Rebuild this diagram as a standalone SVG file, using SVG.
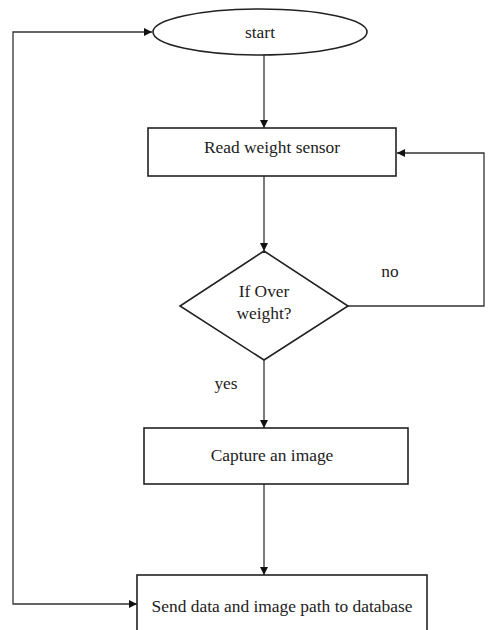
<svg xmlns="http://www.w3.org/2000/svg" width="491" height="630" viewBox="0 0 491 630">
<defs>
<marker id="ah" viewBox="0 0 10 10" refX="10" refY="5" markerWidth="8" markerHeight="8" markerUnits="userSpaceOnUse" orient="auto-start-reverse">
<path d="M0,0 L10,5 L0,10 z" fill="#111"/>
</marker>
</defs>
<style>
.shape{fill:#fff;stroke:#222;stroke-width:1.6}
.edge{fill:none;stroke:#333;stroke-width:1.3;marker-end:url(#ah)}
.both{marker-start:url(#ah)}
.lbl{font-family:'Liberation Serif','Times New Roman','DejaVu Serif',serif;font-size:17.4px;fill:#222;text-anchor:middle}
</style>
<rect width="491" height="630" fill="#fff"/>
<g id="connectors">
<path class="edge" d="M264,55 L264,128"/>
<path class="edge" d="M264,176 L264,251"/>
<path class="edge" d="M348,306 L484,306 L484,153 L397,153"/>
<path class="edge" d="M264,360 L264,428"/>
<path class="edge" d="M264,484 L264,575"/>
<path class="edge both" d="M137,604 L13,604 L13,32 L152,32"/>
<text class="lbl" x="390" y="277">no</text>
<text class="lbl" x="226" y="389">yes</text>
</g>
<g id="start">
<ellipse class="shape" cx="260" cy="32" rx="107" ry="23"/>
<text class="lbl" x="260" y="38">start</text>
</g>
<g id="read">
<rect class="shape" x="148" y="128" width="248" height="48"/>
<text class="lbl" x="272" y="153">Read weight sensor</text>
</g>
<g id="decision">
<polygon class="shape" points="264,251 348,306 264,360 180,306"/>
<text class="lbl" x="264" y="297">If Over</text>
<text class="lbl" x="264" y="319">weight?</text>
</g>
<g id="capture">
<rect class="shape" x="144" y="428" width="264" height="56"/>
<text class="lbl" x="272" y="461">Capture an image</text>
</g>
<g id="send">
<rect class="shape" x="137" y="575" width="290" height="70"/>
<text class="lbl" x="282" y="612">Send data and image path to database</text>
</g>
</svg>
